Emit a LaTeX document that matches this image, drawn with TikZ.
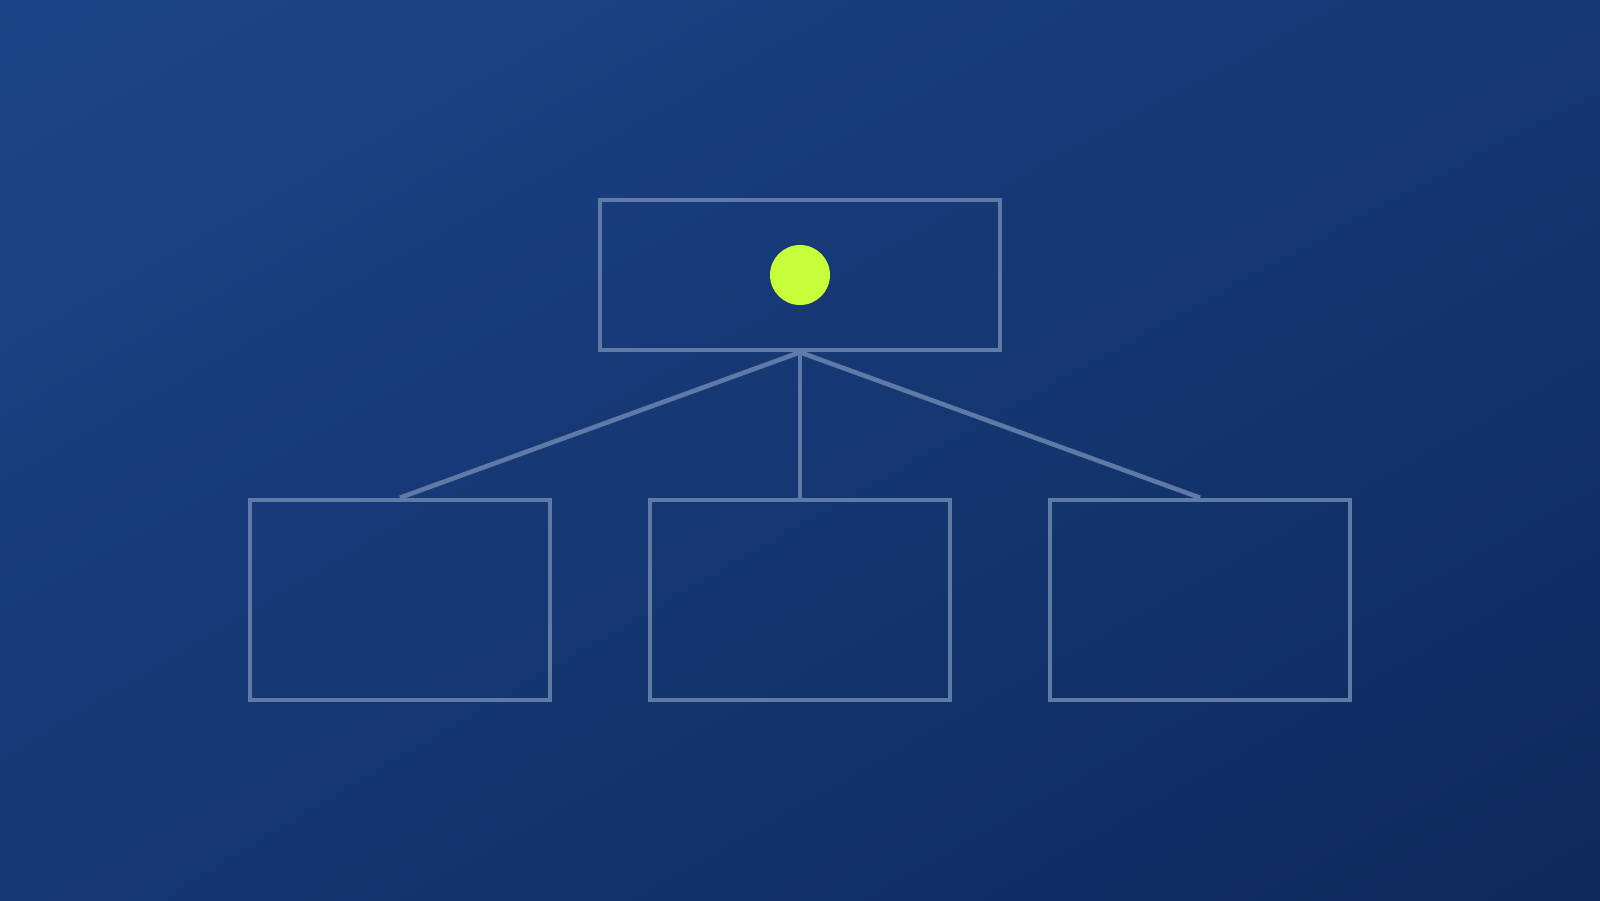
\documentclass[tikz,border=0pt]{standalone}
\usetikzlibrary{positioning,shadings}
\definecolor{bgtl}{HTML}{1C4589}
\definecolor{bgbr}{HTML}{0E295B}
\definecolor{bgmid}{HTML}{153773}
\definecolor{edge}{HTML}{5F7AA6}
\definecolor{lime}{HTML}{C6FF3A}
\begin{document}
\begin{tikzpicture}[line join=miter,
	box/.style={draw=edge,line width=1.3pt,minimum width=3cm,minimum height=2cm,inner sep=0pt},
	link/.style={draw=edge,line width=1.3pt}]
	\useasboundingbox (0,0) rectangle (16,9);
	\shade[upper left=bgtl,lower right=bgbr,upper right=bgmid,lower left=bgmid] (0,0) rectangle (16,9);
	% top
	\node[box,minimum width=4cm,minimum height=1.5cm] (root) at (8,6.25) {};
	\node[circle,fill=lime,minimum size=0.6cm,inner sep=0pt] (dot) at (root.center) {};
	% bottom row
	\node[box] (kidA) at (4,3) {};
	\node[box] (kidB) at (8,3) {};
	\node[box] (kidC) at (12,3) {};
	\foreach \k in {kidA,kidB,kidC}
	\draw[link] (root.south) -- (\k.north);
\end{tikzpicture}
\end{document}
